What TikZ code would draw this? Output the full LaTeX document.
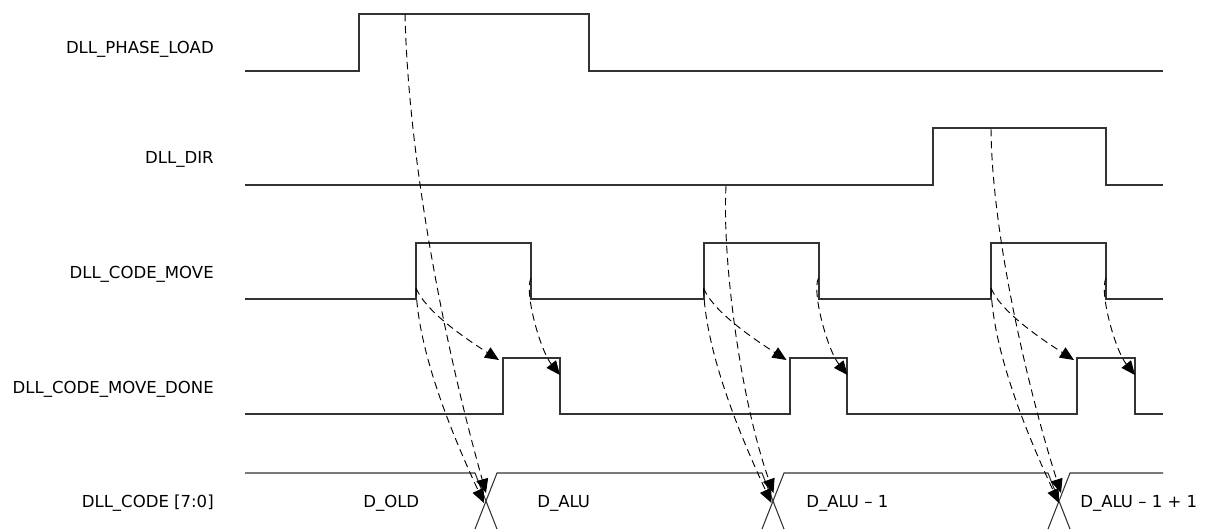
\documentclass[tikz,border=0pt]{standalone}
\usepackage{fontspec}
\setmainfont{DejaVu Sans}
\usetikzlibrary{arrows.meta}

\begin{document}
\begin{tikzpicture}[x=0.75pt,y=-0.75pt,font=\fontsize{12.4}{15}\selectfont,
	wave/.style={line width=0.8pt,black!80},
	cause/.style={line width=0.7pt,dash pattern=on 5.5pt off 3.5pt,-{Triangle[length=10.5pt,width=9pt]}},
	sig/.style={anchor=base east,inner sep=0pt},
	val/.style={anchor=base west,inner sep=0pt}]
		\useasboundingbox (0,0) rectangle (1207,529);
		
		\node[sig] (load) at (214,53) {DLL\_PHASE\_LOAD};
		\node[sig] (dir) at (214,163) {DLL\_DIR};
		\node[sig] (move) at (214,278) {DLL\_CODE\_MOVE};
		\node[sig] (done) at (214,393) {DLL\_CODE\_MOVE\_DONE};
		\node[sig] (code) at (214,507) {DLL\_CODE [7:0]};
		
		\draw[wave] (245,71) to (359,71) to (359,14) to (589,14) to (589,71) to (1163,71);
		\draw[wave] (245,185) to (933,185) to (933,128) to (1106,128) to (1106,185) to (1163,185);
		\draw[wave] (245,299) to (416,299) to (416,243) to (531,243) to (531,299) to (704,299) to (704,243) to (819,243) to (819,299) to (991,299) to (991,243) to (1106,243) to (1106,299) to (1163,299);
		\draw[wave] (245,414) to (503,414) to (503,358) to (560,358) to (560,414) to (790,414) to (790,358) to (847,358) to (847,414) to (1077,414) to (1077,358) to (1135,358) to (1135,414) to (1163,414);
		\draw[wave] (245,473) to (475,473) to (497,529) (475,529) to (497,473) to (762,473) to (784,529) (762,529) to (784,473) to (1048,473) to (1070,529) (1048,529) to (1070,473) to (1163,473);
		
		\node[val] (old) at (363,507) {D\_OLD};
		\node[val] (alu) at (537,507) {D\_ALU};
		\node[val] (alum) at (806,507) {D\_ALU – 1};
		\node[val] (alup) at (1080,507) {D\_ALU – 1 + 1};
		
		\coordinate (pl) at (405,14);
		\coordinate (dl) at (726,186);
		\coordinate (dh) at (991,129);
		\foreach \o [count=\k] in {0,287.5,575}
		{
		\coordinate (rise\k) at (416+\o,288);
		\coordinate (fall\k) at (531+\o,278);
		\coordinate (drise\k) at (499+\o,360);
		\coordinate (dfall\k) at (560+\o,375);
		\coordinate (xa\k) at (486+\o,493);
		\coordinate (xb\k) at (484+\o,503);
		\draw[cause] (rise\k) .. controls +(9,22) and +(-39,-25) .. (drise\k);
		\draw[cause] (fall\k) .. controls +(-7,14) and +(-20,-25) .. (dfall\k);
		\draw[cause] (rise\k) .. controls +(2,62) and +(-34,-73) .. (xb\k);
		}
		\draw[cause] (pl) .. controls +(3,136) and +(-46,-164) .. (xa1);
		\draw[cause] (dl) .. controls +(-4,74) and +(-33,-93) .. (xa2);
		\draw[cause] (dh) .. controls +(1,111) and +(-30,-93) .. (xa3);
	\end{tikzpicture}
\end{document}
